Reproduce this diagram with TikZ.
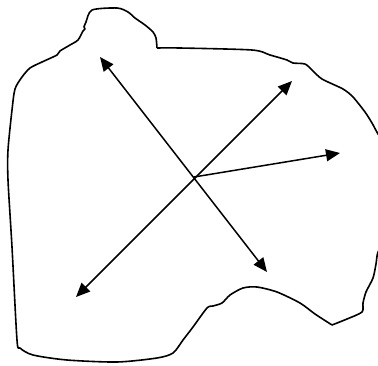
\documentclass[tikz,border=0pt]{standalone}
\usetikzlibrary{arrows.meta}
\begin{document}
\begin{tikzpicture}[x=1pt,y=-1pt,
  outline/.style={line width=1.6pt,line join=round},
  conn/.style={line width=1.5pt,-{Triangle[length=14pt,width=12pt]}},
  dconn/.style={line width=1.5pt,{Triangle[length=14pt,width=12pt]}-{Triangle[length=14pt,width=12pt]}}]
\useasboundingbox (0,0) rectangle (378,365);
\clip (0,0) rectangle (378,365);
% blob outline
\draw[outline] plot[smooth,tension=0.45] coordinates {
 (157,48) (180,48) (252,50) (270,55) (287,60) (293,63) (305,64) (312,70) (322,79) (343,89) (353,97) (365,112) (372,123) (378,134) (388,150) (392,200) (386,240) (378,252)
 (376,264) (373,278) (366,292) (363,303) (362,312) (347,319) (332,325)};
\draw[outline] plot[smooth,tension=0.45] coordinates {
 (332,325) (315,314) (300,303) (277,292) (257,287) (243,288) (230,295) (222,303) (213,306) (207,308) (193,327) (183,340) (173,353) (157,358) (117,362) (67,360) (33,355) (20,348) (17,340) (12,247) (8,180) (8,150) (12,110) (15,89) (22,77) (30,68) (42,62) (57,55) (60,51) (70,45) (78,40) (83,31) (85,29) (84,27) (86,22) (92,10) (117,8) (128,12) (135,18) (145,25) (153,32) (156,38) (157,48)};
% arrows
\coordinate (c) at (194,177);
\coordinate (ul) at (100,57);
\coordinate (lr) at (267,272);
\coordinate (ur) at (292,81);
\coordinate (ll) at (76,297);
\coordinate (r) at (340,153);
\draw[dconn] (ul) -- (lr);
\draw[dconn] (ll) -- (ur);
\draw[conn] (c) -- (r);
\end{tikzpicture}
\end{document}
